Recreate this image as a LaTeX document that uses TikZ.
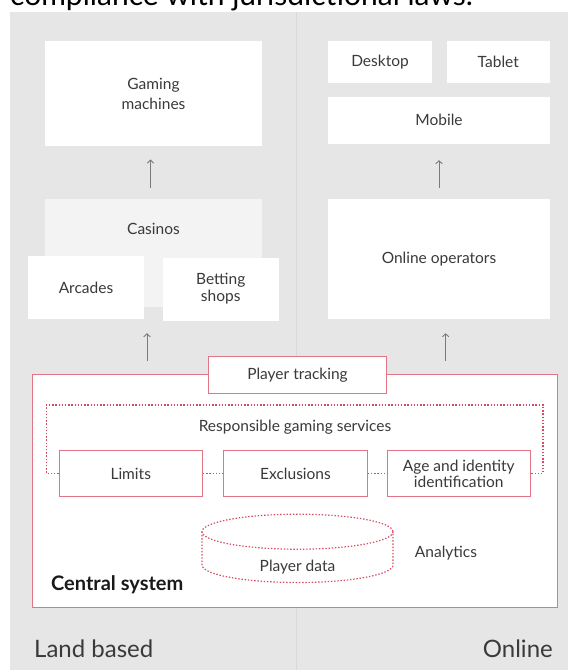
\documentclass[tikz,border=0pt]{standalone}
\usepackage{fontspec}
\setmainfont{Lato}
\usetikzlibrary{arrows.meta}

\definecolor{panelgray}{HTML}{E6E6E6}
\definecolor{paneledge}{HTML}{D9D9D9}
\definecolor{casinogray}{HTML}{F3F3F4}
\definecolor{sysred}{HTML}{E07586}
\definecolor{dotred}{HTML}{D94A62}
\definecolor{txtgray}{HTML}{3A3A3A}
\definecolor{arrgray}{HTML}{7A7A7A}

\tikzset{
  txt/.style={text=txtgray, font=\fontsize{15.5}{20}\selectfont, align=center, inner sep=0pt},
  box/.style={txt, fill=white},
  redbox/.style={box, draw=sysred, line width=0.9pt},
  dots/.style={draw=dotred, line width=1.2pt, dash pattern=on 1.4pt off 1.8pt},
  arr/.style={-{Straight Barb[length=3pt,width=6.5pt]}, draw=arrgray, line width=0.9pt},
}

\begin{document}
\begin{tikzpicture}[x=1pt,y=-1pt]
  \useasboundingbox (0,0) rectangle (569,670);
  \node[anchor=base west, font=\fontsize{30}{32}\selectfont, inner sep=0pt] (caption) at (10,5) {compliance with jurisdictional laws.};

  % two panels
  \fill[panelgray] (10,12) rectangle (568,670);
  \draw[paneledge, line width=0.8pt] (296,12) -- (296,670);

  % land based side
  \node[box, minimum width=217pt, minimum height=105pt] (gaming) at (153.5,93.5) {Gaming\\machines};
  \node[box, fill=casinogray, minimum width=217pt, minimum height=108pt] (casinos) at (153.5,253) {};
  \node[txt] (casinostext) at ([yshift=-30pt]casinos.north) {Casinos};
  \node[box, minimum width=116pt, minimum height=63pt] (arcades) at (86,287.5) {Arcades};
  \node[box, minimum width=116.5pt, minimum height=63pt, font=\fontsize{15.5}{17}\selectfont] (betting) at (220.75,289) {Betting\\shops};

  % online side
  \node[box, minimum width=103.5pt, minimum height=42pt] (desktop) at (380,62) {Desktop};
  \node[box, minimum width=103.5pt, minimum height=42pt] (tablet) at (498.3,62) {Tablet};
  \node[box, minimum width=222pt, minimum height=47.3pt] (mobile) at (439,120.3) {Mobile};
  \node[box, minimum width=222pt, minimum height=120pt] (online) at (439,259) {Online operators};

  \draw[arr, shorten <=11pt, shorten >=13.3pt] ([xshift=-3pt]casinos.north) -- ([xshift=-3pt]gaming.south);
  \draw[arr, shorten <=11pt, shorten >=16pt] (online.north) -- (mobile.south);

  % central system
  \node[redbox, minimum width=525pt, minimum height=233.7pt] (central) at (294.5,490.85) {};
  \coordinate (landfeed) at (147,374);
  \coordinate (onlinefeed) at (445.6,374);
  \draw[arr, shorten <=13pt, shorten >=14pt] (landfeed) -- (landfeed |- arcades.south);
  \draw[arr, shorten <=13pt, shorten >=14pt] (onlinefeed) -- (onlinefeed |- online.south);
  \node[redbox, minimum width=177.8pt, minimum height=36.3pt] (tracking) at (297.5,374.85) {Player tracking};

  \node[txt] (rgs) at (295,427) {Responsible gaming services};
  \node[redbox, minimum width=143.5pt, minimum height=45.6pt] (limits) at (130.75,473.5) {Limits};
  \node[redbox, minimum width=143.5pt, minimum height=45.6pt] (excl) at (295.5,473.5) {Exclusions};
  \node[redbox, minimum width=143.5pt, minimum height=45.6pt, font=\fontsize{15.5}{16}\selectfont] (age) at (458.75,473.5) {Age and identity\\identification};
  \draw[dots] (limits.west) -| (46.4,405) -- (543,405) |- (age.east);
  \draw[dots] (limits) -- (excl);
  \draw[dots] (excl) -- (age);

  % player data store
  \draw[dots] (297.5,531.7) ellipse [x radius=95.5, y radius=17.5];
  \draw[dots] (202,531.7) -- (202,565) arc [start angle=180, end angle=0, x radius=95.5, y radius=17.5] -- (393,531.7);
  \node[txt] (playerdata) at (297.5,566.7) {Player data};
  \node[txt] (analytics) at (446,552.7) {Analytics};
  \node[anchor=west, font=\fontsize{20}{22}\bfseries, text=black!90, inner sep=0pt] (systemname) at (51,585) {Central system};

  \node[anchor=west, txt, font=\fontsize{24}{26}\selectfont] (landbased) at (34,649) {Land based};
  \node[anchor=east, txt, font=\fontsize{24}{26}\selectfont] (onlinename) at (553,649) {Online};
\end{tikzpicture}
\end{document}
